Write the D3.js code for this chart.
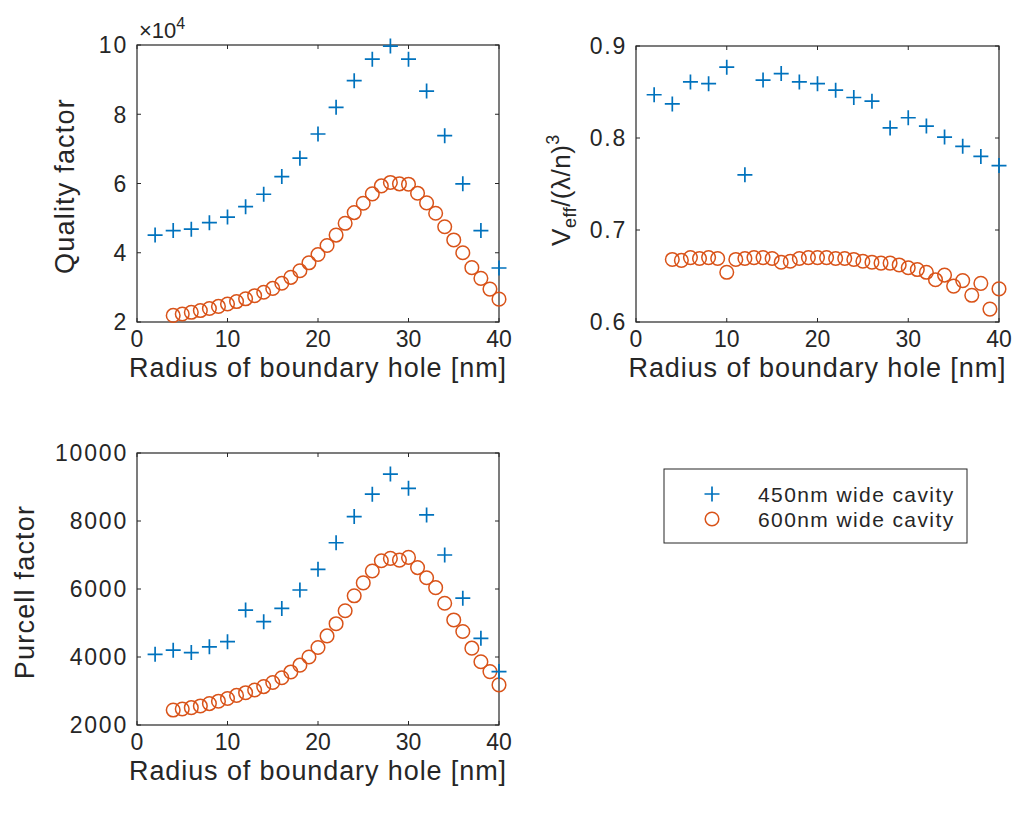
<!DOCTYPE html>
<meta charset="utf-8">
<script src="https://d3js.org/d3.v7.min.js"></script>
<style>
  body { margin: 0; background: #fff; }
  text { font-family: "Liberation Sans", Arial, sans-serif; fill: #262626; }
</style>
<div id="chart"></div>
<script>

// radius of boundary hole [nm]
var rBlue = [2,4,6,8,10,12,14,16,18,20,22,24,26,28,30,32,34,36,38,40];
var rOrange = [4,5,6,7,8,9,10,11,12,13,14,15,16,17,18,19,20,21,22,23,24,25,26,27,28,29,30,31,32,33,34,35,36,37,38,39,40];

// quality factor (x 10^4)
var qBlue = [4.51,4.64,4.68,4.87,5.03,5.33,5.69,6.20,6.73,7.43,8.20,8.97,9.59,9.97,9.59,8.67,7.38,5.99,4.64,3.56];
var qOrange = [2.19,2.23,2.28,2.33,2.39,2.45,2.52,2.59,2.67,2.76,2.86,2.97,3.12,3.29,3.48,3.71,3.95,4.21,4.51,4.85,5.16,5.43,5.70,5.93,6.03,5.99,5.98,5.72,5.44,5.14,4.75,4.37,4.00,3.57,3.26,2.95,2.66];

// mode volume V_eff/(lambda/n)^3
var vBlue = [0.847,0.837,0.861,0.859,0.877,0.760,0.863,0.870,0.861,0.859,0.852,0.844,0.840,0.811,0.822,0.813,0.801,0.791,0.780,0.770];
var vOrange = [0.668,0.667,0.670,0.669,0.670,0.669,0.654,0.668,0.669,0.670,0.670,0.669,0.665,0.666,0.669,0.670,0.670,0.670,0.669,0.669,0.668,0.666,0.665,0.664,0.664,0.662,0.659,0.657,0.654,0.646,0.651,0.639,0.645,0.629,0.642,0.614,0.636];

// Purcell factor
var pBlue = [4080,4200,4130,4300,4450,5380,5040,5430,5970,6580,7360,8130,8790,9380,8960,8180,7000,5730,4550,3570];
var pOrange = [2440,2470,2510,2560,2630,2700,2780,2870,2950,3030,3130,3250,3390,3560,3760,4000,4280,4620,4980,5360,5800,6180,6530,6830,6900,6850,6930,6630,6330,6040,5580,5090,4750,4260,3860,3570,3180];

var xTicks = [0,10,20,30,40];
var qTicks = [2,4,6,8,10];
var vTicks = [0.6,0.7,0.8,0.9];
var pTicks = [2000,4000,6000,8000,10000];

var seriesNames = ["450nm wide cavity", "600nm wide cavity"];
var blue = "#0072BD", orange = "#D95319", axisCol = "#262626";

var svg = d3.select("#chart").append("svg")
  .attr("width", 1016)
  .attr("height", 815);

function plus(g, x, y) {
  g.append("path")
    .attr("d", "M" + (x - 7.5) + "," + y + "H" + (x + 7.5) + "M" + x + "," + (y - 7.5) + "V" + (y + 7.5))
    .attr("stroke", blue).attr("stroke-width", 1.7).attr("fill", "none");
}

function drawPanel(p) {
  var g = svg.append("g").attr("transform", "translate(" + p.left + "," + p.top + ")");

  var x = d3.scaleLinear().domain([0, 40]).range([0, p.width]);
  var y = d3.scaleLinear().domain(p.yDomain).range([p.height, 0]);

  // ticks inside, on all four sides (box on)
  xTicks.forEach(function(t) {
    g.append("line").attr("x1", x(t)).attr("x2", x(t)).attr("y1", p.height).attr("y2", p.height - 4)
      .attr("stroke", axisCol);
    g.append("line").attr("x1", x(t)).attr("x2", x(t)).attr("y1", 0).attr("y2", 4)
      .attr("stroke", axisCol);
    g.append("text").attr("x", x(t)).attr("y", p.height + 25)
      .attr("text-anchor", "middle").style("font-size", "23px").text(t);
  });
  p.yTicks.forEach(function(t) {
    g.append("line").attr("x1", 0).attr("x2", 4).attr("y1", y(t)).attr("y2", y(t))
      .attr("stroke", axisCol);
    g.append("line").attr("x1", p.width).attr("x2", p.width - 4).attr("y1", y(t)).attr("y2", y(t))
      .attr("stroke", axisCol);
    g.append("text").attr("x", -9).attr("y", y(t)).attr("dy", "0.36em")
      .attr("text-anchor", "end").style("font-size", "23px").style("letter-spacing", "1.8px")
      .text(p.tickFmt(t));
  });

  g.append("rect").attr("width", p.width).attr("height", p.height)
    .attr("fill", "none").attr("stroke", axisCol).attr("stroke-width", 1.2);

  // orange circles first, blue plus on top
  p.orange.forEach(function(v, i) {
    g.append("circle").attr("cx", x(rOrange[i])).attr("cy", y(v)).attr("r", 6.8)
      .attr("fill", "none").attr("stroke", orange).attr("stroke-width", 1.5);
  });
  p.blue.forEach(function(v, i) {
    plus(g, x(rBlue[i]), y(v));
  });

  g.append("text").attr("x", p.width / 2).attr("y", p.height + 55)
    .attr("text-anchor", "middle").style("font-size", "27px").style("letter-spacing", "0.9px")
    .text("Radius of boundary hole [nm]");

  return g;
}

var g1 = drawPanel({left: 137, top: 45, width: 362, height: 277, yDomain: [2, 10], yTicks: qTicks,
  tickFmt: function(d) { return d; }, blue: qBlue, orange: qOrange});
g1.append("text").attr("transform", "translate(-63," + 141 + ") rotate(-90)")
  .attr("text-anchor", "middle").style("font-size", "27px").style("letter-spacing", "1.2px")
  .text("Quality factor");
var ex = g1.append("text").attr("x", 2).attr("y", -7).style("font-size", "22px");
ex.append("tspan").text("\u00d710");
ex.append("tspan").attr("dy", -9).style("font-size", "16px").text("4");

var g2 = drawPanel({left: 636, top: 46, width: 363, height: 276, yDomain: [0.6, 0.9], yTicks: vTicks,
  tickFmt: d3.format(".1f"), blue: vBlue, orange: vOrange});
var vl = g2.append("text").attr("transform", "translate(-66," + 144 + ") rotate(-90)")
  .attr("text-anchor", "middle").style("font-size", "26px").style("letter-spacing", "0.5px");
vl.append("tspan").text("V");
vl.append("tspan").attr("dy", 6).style("font-size", "18px").text("eff");
vl.append("tspan").attr("dy", -6).text("/(\u03bb/n)");
vl.append("tspan").attr("dy", -11).style("font-size", "18px").text("3");

var g3 = drawPanel({left: 137, top: 453, width: 362, height: 272, yDomain: [2000, 10000], yTicks: pTicks,
  tickFmt: function(d) { return d; }, blue: pBlue, orange: pOrange});
g3.append("text").attr("transform", "translate(-103," + 139 + ") rotate(-90)")
  .attr("text-anchor", "middle").style("font-size", "27px").style("letter-spacing", "1.2px")
  .text("Purcell factor");

// legend
var leg = svg.append("g").attr("transform", "translate(664,469)");
leg.append("rect").attr("width", 303).attr("height", 74)
  .attr("fill", "#fff").attr("stroke", axisCol).attr("stroke-width", 1);
plus(leg, 48, 25);
leg.append("circle").attr("cx", 48).attr("cy", 50).attr("r", 6.8)
  .attr("fill", "none").attr("stroke", orange).attr("stroke-width", 1.5);
seriesNames.forEach(function(n, i) {
  leg.append("text").attr("x", 94).attr("y", 25 + i * 25).attr("dy", "0.36em")
    .style("font-size", "21px").style("letter-spacing", "1.4px").text(n);
});

</script>
